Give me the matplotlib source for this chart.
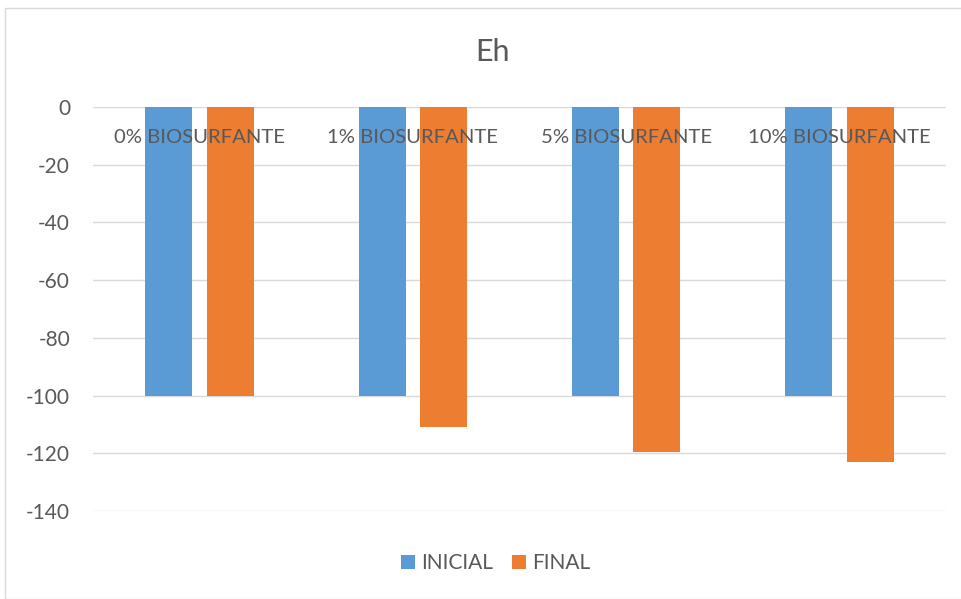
import matplotlib.pyplot as plt
import numpy as np
from matplotlib.patches import Rectangle

plt.rcParams['font.family'] = ['Lato', 'DejaVu Sans']

categorias = ['0% BIOSURFANTE', '1% BIOSURFANTE', '5% BIOSURFANTE', '10% BIOSURFANTE']
inicial = [-100, -100, -100, -100]
final = [-100, -111, -119.6, -123.1]
yticks = [0, -20, -40, -60, -80, -100, -120, -140]

azul = '#5B9BD5'
naranja = '#ED7D31'
gris = '#595959'

fig = plt.figure(figsize=(9.61, 5.99), dpi=100)
ax = fig.add_axes([93 / 961, 1 - 511 / 599, 853 / 961, 404 / 599])

x = np.arange(len(categorias))
w = 0.22
ax.bar(x - 0.144, inicial, w, color=azul, label='INICIAL')
ax.bar(x + 0.144, final, w, color=naranja, label='FINAL')

ax.set_xlim(-0.5, len(categorias) - 0.5)
ax.set_ylim(-140, 0)
ax.set_yticks(yticks)
ax.set_yticklabels([str(v) for v in yticks], fontsize=15, color=gris)
ax.tick_params(axis='y', length=0, pad=16.5)
ax.set_xticks([])
ax.grid(axis='y', color='#D9D9D9', linewidth=1)
ax.set_axisbelow(True)
for s in ax.spines.values():
    s.set_visible(False)

# etiquetas de categoria arriba, bajo la linea del cero
for i, c in enumerate(categorias):
    ax.text(i, -10.5, c, ha='center', va='center', fontsize=14.6, color=gris)

fig.text(493 / 961, 1 - 52 / 599, 'Eh', ha='center', va='center', fontsize=22, color=gris)

fig.legend(loc='center', bbox_to_anchor=(496 / 961, 1 - 563 / 599), ncol=2, frameon=False,
           fontsize=15, labelcolor=gris, handlelength=0.67, handleheight=0.67,
           handletextpad=0.3, columnspacing=0.9, borderpad=0, borderaxespad=0)

# borde del grafico
fig.patches.append(Rectangle((5 / 961, 0), 1, 1 - 8 / 599, transform=fig.transFigure,
                             fill=False, edgecolor='#D9D9D9', linewidth=1))

fig.savefig('out.png', dpi=100)
